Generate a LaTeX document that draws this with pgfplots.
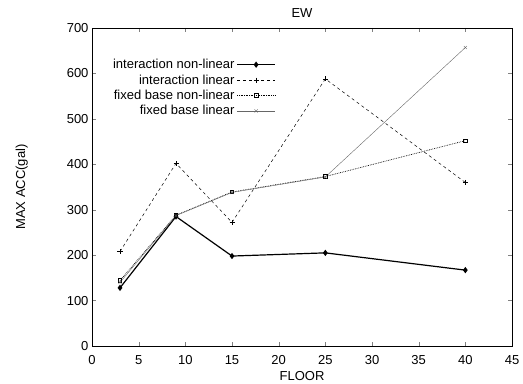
\documentclass[border=0pt]{standalone}
\usepackage{pgfplots}
\pgfplotsset{compat=1.18}
\usepackage{fontspec}
\setmainfont{Liberation Sans}
\begin{document}
\begin{tikzpicture}
\begin{axis}[
  name=ax,
  scale only axis,
  width=420pt, height=318pt,
  xmin=0, xmax=45, ymin=0, ymax=700,
  xtick={0,5,...,45}, ytick={0,100,...,700},
  tick align=inside,
  major tick length=4pt,
  /pgf/number format/assume math mode=true,
  tick label style={font=\fontsize{13}{13}\selectfont},
  xticklabel style={yshift=-6pt},
  title={EW},
  every axis title/.style={at={(axis description cs:0.5,1)}, anchor=center, yshift=15pt, font=\fontsize{13}{13}\selectfont},
  xlabel={FLOOR},
  ylabel={MAX ACC(gal)},
  every axis x label/.style={at={(axis description cs:0.5,0)}, anchor=center, yshift=-30pt, font=\fontsize{13}{13}\selectfont},
  every axis y label/.style={at={(axis description cs:-0.167,0.5)}, anchor=center, rotate=90, font=\fontsize{13}{13}\selectfont},
  legend style={draw=none, fill=none, at={(axis description cs:0.445,0.915)}, anchor=north east,
    font=\fontsize{13}{13}\selectfont, row sep=0.5pt},
  legend cell align=right,
  legend plot pos=right,
  legend image code/.code={
    \draw[mark repeat=2, mark phase=2, #1] plot coordinates {(0pt,0pt) (19pt,0pt) (38pt,0pt)};
  },
]
\addplot[black, line width=1.2pt, mark=diamond*, mark size=2.2pt] coordinates {
(3,128) (9,285) (15,198) (25,205) (40,167)};
\addlegendentry{interaction non-linear}
\addplot[black, dashed, line width=0.5pt, mark=+, mark size=2.5pt, mark options={solid}] coordinates {
(3,208) (9,402) (15,272) (25,588) (40,360)};
\addlegendentry{interaction linear}
\addplot[black, densely dotted, line width=0.7pt, mark=square, mark size=1.8pt, mark options={solid}] coordinates {
(3,144) (9,288) (15,339) (25,373) (40,452)};
\addlegendentry{fixed base non-linear}
\addplot[black!60, line width=0.4pt, mark=x, mark size=2.2pt, mark options={solid}] coordinates {
(3,140) (9,287) (15,338) (25,372) (40,657)};
\addlegendentry{fixed base linear}
\end{axis}
\path ([xshift=-92pt,yshift=-38pt]ax.south west) rectangle ([xshift=11pt,yshift=28pt]ax.north east);
\end{tikzpicture}
\end{document}
